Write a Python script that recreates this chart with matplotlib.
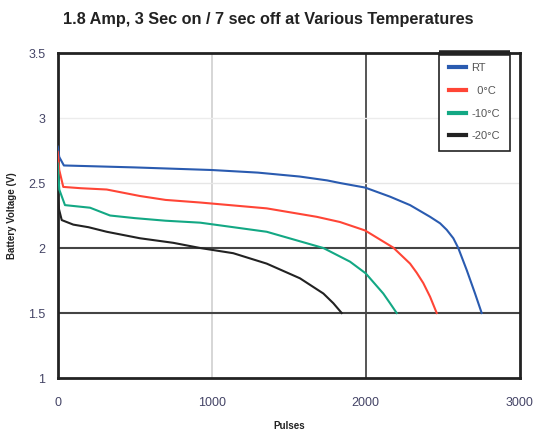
import numpy as np
import matplotlib
matplotlib.use("Agg")
import matplotlib.pyplot as plt

plt.rcParams['font.family'] = ['Liberation Sans', 'DejaVu Sans']

# pulses / voltage
rt_x = [0, 10, 40, 500, 1000, 1300, 1570, 1750, 1833, 1996, 2158, 2288, 2418, 2483, 2526, 2569, 2601, 2656, 2710, 2753]
rt_y = [2.78, 2.70, 2.635, 2.62, 2.60, 2.58, 2.55, 2.52, 2.50, 2.465, 2.395, 2.33, 2.24, 2.19, 2.14, 2.075, 2.0, 1.83, 1.65, 1.5]

c0_x = [0, 10, 36, 150, 318, 534, 700, 925, 1357, 1682, 1833, 1996, 2179, 2288, 2331, 2374, 2418, 2461]
c0_y = [2.74, 2.60, 2.47, 2.46, 2.45, 2.40, 2.37, 2.35, 2.305, 2.24, 2.20, 2.135, 2.003, 1.88, 1.81, 1.73, 1.625, 1.5]

c10_x = [0, 10, 47, 210, 340, 500, 700, 925, 1357, 1725, 1898, 2000, 2114, 2158, 2201]
c10_y = [2.65, 2.45, 2.33, 2.31, 2.25, 2.23, 2.21, 2.195, 2.125, 2.0, 1.895, 1.805, 1.65, 1.575, 1.5]

c20_x = [0, 8, 26, 101, 200, 318, 534, 750, 925, 1140, 1357, 1573, 1725, 1790, 1844]
c20_y = [2.40, 2.30, 2.215, 2.18, 2.16, 2.125, 2.075, 2.04, 2.0, 1.96, 1.88, 1.767, 1.65, 1.575, 1.5]

series = [
    ('RT', rt_x, rt_y, '#2a5bb0'),
    ('  0°C', c0_x, c0_y, '#ff4536'),
    ('-10°C', c10_x, c10_y, '#13a884'),
    ('-20°C', c20_x, c20_y, '#222222'),
]

xticks = [0, 1000, 2000, 3000]
yticks = [1, 1.5, 2, 2.5, 3, 3.5]

fig = plt.figure(figsize=(5.36, 4.36), dpi=100)
ax = fig.add_axes([0.1077, 0.133, 0.8619, 0.7454])

# grid lines, some light some dark like the original
ax.axvline(1000, color='#cfcfcf', lw=1.2, zorder=1)
ax.axvline(2000, color='#555555', lw=1.4, zorder=1)
ax.axhline(3.0, color='#ececec', lw=1.0, zorder=1)
ax.axhline(2.5, color='#e6e6e6', lw=1.0, zorder=1)
ax.axhline(2.0, color='#444444', lw=1.5, zorder=1)
ax.axhline(1.5, color='#444444', lw=1.5, zorder=1)

for name, xs, ys, col in series:
    ax.plot(xs, ys, color=col, lw=1.5, label=name, zorder=3, solid_joinstyle='round')

ax.set_xlim(0, 3000)
ax.set_ylim(1, 3.5)
ax.set_xticks(xticks)
ax.set_xticklabels([str(t) for t in xticks])
ax.set_yticks(yticks)
ax.set_yticklabels(['1', '1.5', '2', '2.5', '3', '3.5'])
ax.tick_params(length=0, labelsize=9, labelcolor='#444466')
ax.tick_params(axis='x', pad=14)
ax.tick_params(axis='y', pad=9)
for s in ax.spines.values():
    s.set_linewidth(2)
    s.set_color('#222222')

ax.set_xlabel('Pulses', fontsize=7, fontweight='bold', labelpad=8, color='#222222')
ax.set_ylabel('Battery Voltage (V)', fontsize=7, fontweight='bold', labelpad=8, color='#222222')
fig.text(0.5, 0.956, '1.8 Amp, 3 Sec on / 7 sec off at Various Temperatures',
         ha='center', va='center', fontsize=11.7, fontweight='bold', color='#222222')

leg = ax.legend(loc='upper right', bbox_to_anchor=(0.979, 1.0), borderaxespad=0,
                fontsize=8, handlelength=1.5, handletextpad=0.5, labelspacing=1.15,
                borderpad=0.9, fancybox=False, framealpha=1, edgecolor='#222222')
leg.get_frame().set_linewidth(1.2)
for line in leg.get_lines():
    line.set_linewidth(3)
for t in leg.get_texts():
    t.set_color('#555555')

# thick bar on top of the legend box
fig.canvas.draw()
bb = leg.get_window_extent().transformed(ax.transAxes.inverted())
ax.plot([bb.x0, bb.x1], [1, 1], transform=ax.transAxes, color='#222222',
        lw=4, clip_on=False, solid_capstyle='butt', zorder=6)

fig.savefig('out.png', dpi=100)
